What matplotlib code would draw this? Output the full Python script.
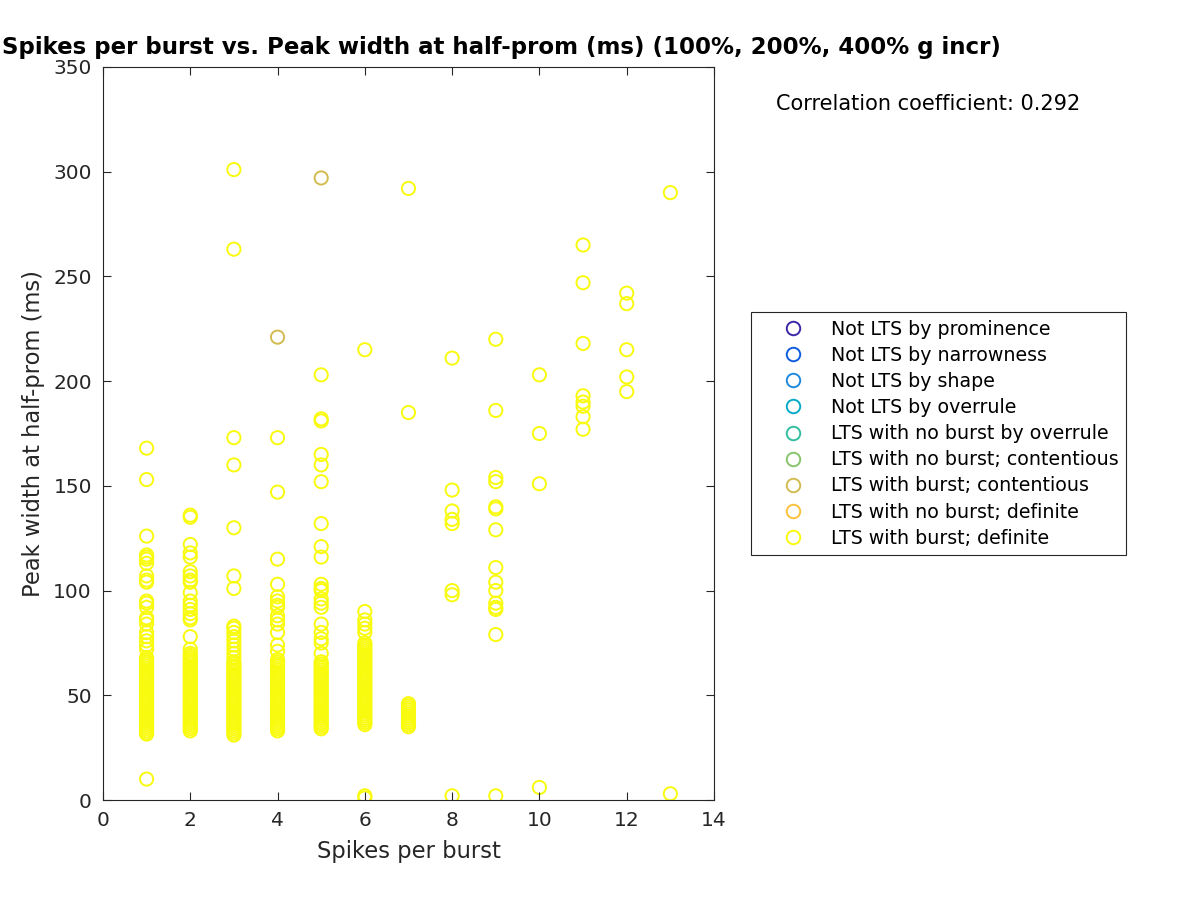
import matplotlib
matplotlib.use('Agg')
import matplotlib.pyplot as plt
from matplotlib.lines import Line2D

# legend categories and their colours (parula-like)
labels = ['Not LTS by prominence', 'Not LTS by narrowness', 'Not LTS by shape',
          'Not LTS by overrule', 'LTS with no burst by overrule',
          'LTS with no burst; contentious', 'LTS with burst; contentious',
          'LTS with no burst; definite', 'LTS with burst; definite']
colors = ['#3E26A8', '#0F5CDD', '#1E8ADE', '#06ACC7', '#33BEA0',
          '#87C46B', '#D2BB50', '#FDC13B', '#F9FB0E']

# peak width at half-prom (ms) for "LTS with burst; definite", one list per spikes-per-burst value
w1 = [168, 153, 126, 117, 116, 115, 113, 107, 105, 104, 95, 94, 92, 87, 86, 84, 80, 78, 76, 74, 72,
      68, 67, 66, 65, 64, 63, 62, 61, 60, 59, 58, 57, 56, 55, 54, 53, 52, 51, 50, 49, 48, 47, 46,
      45, 44, 43, 42, 41, 40, 39, 38, 37, 36, 35, 34, 33, 32, 31.5, 10]
w2 = [136, 135, 122, 118, 116, 109, 107, 105, 104, 99, 95, 93, 91, 89, 87, 86, 78, 72,
      70, 69, 68, 67, 66, 65, 64, 63, 62, 61, 60, 59, 58, 57, 56, 55, 54, 53, 52, 51, 50, 49,
      48, 47, 46, 45, 44, 43, 42, 41, 40, 39, 38, 37, 36, 35, 34, 33]
w3 = [301, 263, 173, 160, 130, 107, 101, 83, 82, 80, 78, 76, 74, 72, 70, 68, 66, 65, 64, 63,
      62, 61, 60, 59, 58, 57, 56, 55, 54, 53, 52, 51, 50, 49, 48, 47, 46, 45, 44, 43, 42, 41,
      40, 39, 38, 37, 36, 35, 34, 33, 32, 31]
w4 = [173, 147, 115, 103, 97, 95, 93, 92, 88, 86, 84, 80, 74, 71, 67, 66, 65, 64, 63, 62, 61,
      60, 59, 58, 57, 56, 55, 54, 53, 52, 51, 50, 49, 48, 47, 46, 45, 44, 43, 42, 41, 40, 39,
      38, 37, 36, 35, 34, 33]
w5 = [203, 182, 181, 165, 160, 152, 132, 121, 116, 103, 101, 100, 96, 94, 92, 84, 80, 77, 75,
      70, 66, 65, 64, 63, 62, 61, 60, 59, 58, 57, 56, 55, 54, 53, 52, 51, 50, 49, 48, 47, 46,
      45, 44, 43, 42, 41, 40, 39, 38, 37, 36, 35, 34]
w6 = [215, 90, 86, 84, 82, 80, 75, 74, 73, 72, 71, 70, 69, 68, 67, 66, 65, 64, 63, 62, 61, 60,
      59, 58, 57, 56, 55, 54, 53, 52, 51, 50, 49, 48, 47, 46, 45, 44, 43, 42, 41, 40, 39, 38,
      37, 36, 2, 1]
w7 = [292, 185, 46, 45, 44, 43, 42, 41, 40, 39, 38, 37, 36, 35]
w8 = [211, 148, 138, 134, 132, 100, 98, 2]
w9 = [220, 186, 154, 152, 140, 139, 129, 111, 104, 100, 94, 92, 91, 79, 2]
w10 = [203, 175, 151, 6]
w11 = [265, 247, 218, 193, 190, 188, 183, 177]
w12 = [242, 237, 215, 202, 195]
w13 = [290, 3]
definite_groups = [w1, w2, w3, w4, w5, w6, w7, w8, w9, w10, w11, w12, w13]

# "LTS with burst; contentious"
cont_x = [4, 5]
cont_y = [221, 297]

corr_text = 'Correlation coefficient: 0.292'

def_x, def_y = [], []
for n, ws in enumerate(definite_groups, start=1):
    def_x += [n] * len(ws)
    def_y += ws

fig = plt.figure(figsize=(12, 9), dpi=100)
ax = fig.add_axes([0.0858, 0.1111, 0.5092, 0.8145])

ax.scatter(cont_x, cont_y, s=90, facecolors='none', edgecolors=colors[6], linewidths=1.4)
ax.scatter(def_x, def_y, s=90, facecolors='none', edgecolors=colors[8], linewidths=1.4)

ax.set_xlim(0, 14)
ax.set_ylim(0, 350)
ax.set_xticks(range(0, 15, 2))
ax.set_yticks(range(0, 351, 50))
ax.tick_params(direction='in', length=5.5, width=0.8, top=True, right=True,
               labelsize=14.5, colors='#262626', pad=8)
for sp in ax.spines.values():
    sp.set_linewidth(0.8)
    sp.set_color('#262626')

ax.set_xlabel('Spikes per burst', fontsize=16.3, color='#262626', labelpad=7)
ax.set_ylabel('Peak width at half-prom (ms)', fontsize=16.3, color='#262626', labelpad=6)

fig.text(0.002, 0.947, 'Spikes per burst vs. Peak width at half-prom (ms) (100%, 200%, 400% g incr)',
         fontsize=16.5, fontweight='bold', ha='left', va='center')
fig.text(0.647, 0.885, corr_text, fontsize=15, ha='left', va='center')

handles = [Line2D([], [], marker='o', linestyle='none', markersize=9.7, markerfacecolor='none',
                  markeredgecolor=c, markeredgewidth=1.4) for c in colors]
leg = fig.legend(handles, labels, loc='upper left', bbox_to_anchor=(0.6258, 0.6533),
                 borderaxespad=0, fontsize=13.7, frameon=True, fancybox=False, framealpha=1,
                 edgecolor='#262626', handletextpad=0.2, borderpad=0.4, labelspacing=0.375,
                 handlelength=3.6)
leg.get_frame().set_linewidth(0.8)

fig.savefig('out.png', dpi=100)
